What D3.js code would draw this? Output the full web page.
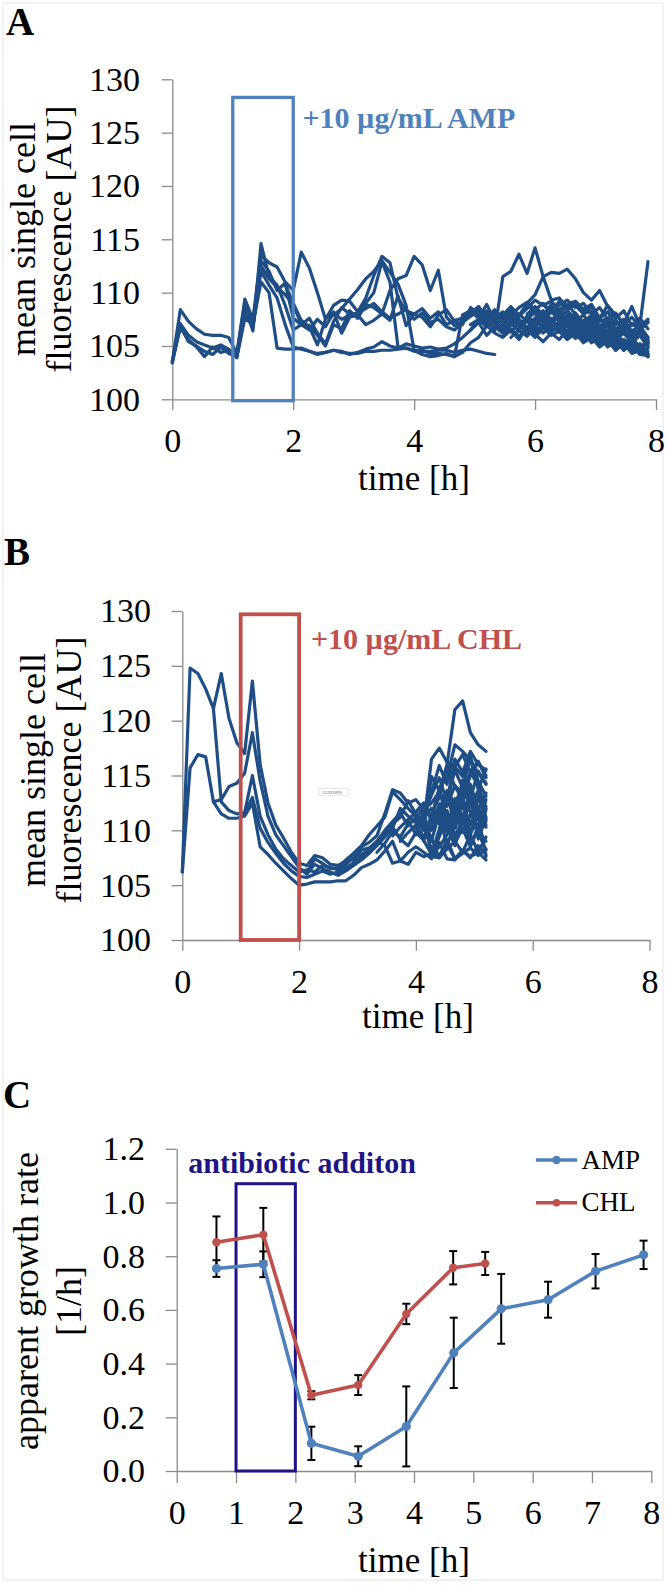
<!DOCTYPE html>
<html><head><meta charset="utf-8">
<script src="https://cdn.jsdelivr.net/npm/d3@7"></script>
<style>
html,body{margin:0;padding:0;background:#fff;}
svg{display:block;}
</style></head><body>
<script>
// ---------- shared time grid (8-minute sampling, hours) ----------
const timeGrid = [0,0.133,0.267,0.4,0.533,0.667,0.8,0.933,1.067,1.2,1.333,1.467,1.6,1.733,1.867,2,2.133,2.267,2.4,2.533,2.667,2.8,2.933,3.067,3.2,3.333,3.467,3.6,3.733,3.867,4,4.133,4.267,4.4,4.533,4.667,4.8,4.933,5.067,5.2,5.333,5.467,5.6,5.733,5.867,6,6.133,6.267,6.4,6.533,6.667,6.8,6.933,7.067,7.2,7.333,7.467,7.6,7.733,7.867];

// ---------- tick labels ----------
const fluorTicks = [100,105,110,115,120,125,130];
const hourTicksAB = [0,2,4,6,8];
const hourTicksC = [0,1,2,3,4,5,6,7,8];
const rateTicks = [0,0.2,0.4,0.6,0.8,1.0,1.2];

// ---------- panel A: single-cell traces, +AMP (start index into timeGrid, values) ----------
const ampStart = [0,0,0,0,8,8,37,37,14,20,38,40,42,41,44,45,40,43,46,40,42,44,47,48,50,41];
const ampLine1 = [103.5,108.4,107.3,106.6,106.1,106.0,106.0,105.8,104.3,109.4,107.5,113.5,112.8,112.4,111.0,110.2,113.8,112.3,110.0,107.5,108.8,109.3,109.2,108.2,109.5,111.6,113.4,112.8,109.5,108.3,108.0,108.5,107.6,108.2,107.0,107.4,107.6,108.1,108.7,107.6,108.4,107.2,107.9,106.9,107.6,108.1,107.2,108.3,107.5,106.9,107.6,106.5,107.1,106.2,106.9,105.7,106.4,105.3,106.0,105.0];
const ampLine2 = [103.5,107.1,106.0,105.4,105.1,104.8,105.1,104.7,104.0,108.8,106.4,114.6,111.5,110.7,108.8,106.5,107.0,107.6,106.2,105.2,107.3,108.6,108.0,107.9,109.0,110.0,112.9,111.0,104.9,104.8,104.5,104.6,104.3,104.3,104.2,104.0,107.9,108.3,107.6,108.9,107.4,106.6,107.8,106.8,107.3,106.6,107.9,107.1,108.2,107.0,106.4,107.2,106.0,106.6,105.4,106.1,105.0,105.6,104.6,105.2];
const ampLine3 = [103.6,106.7,105.6,104.9,104.0,104.9,104.4,104.6,103.9,107.6,107.0,111.0,110.0,104.8,104.7,104.7,104.8,104.5,104.3,104.4,104.6,104.4,104.3,104.3,104.5,104.5,104.6,104.6,104.7,104.8,104.6,104.5,104.5,104.6,104.6,104.4,104.6,104.7,104.5,104.3,104.2];
const ampLine4 = [103.4,106.9,105.4,105.0,104.5,104.2,104.9,104.3,104.0,108.0,106.8,112.0,110.7,109.5,107.0,104.9,104.7,104.5,104.2,104.4,104.6,104.5,104.2,104.4,104.7,104.9,105.4,105.0,104.8,105.2,105.0,104.8,104.9,104.7,104.8,105.2,105.8,106.5,107.5,108.0,107.0,106.3,106.6,105.9,106.5,105.8,106.7,106.0,106.4,105.6,106.2,105.3,105.8,104.9,105.5,104.6,105.2,104.4,104.9,104.2];
const ampLine5 = [104.2,109.0,107.2,113.0,112.0,110.2,110.9,107.6,107.0,106.9,106.0,105.0,107.0,106.6,108.3,107.6,108.9,108.6,108.0,110.2,111.3,111.6,113.4,112.6,110.2,112.1,107.7,106.9,107.3,107.8,108.2,107.3,108.0,107.2,108.1,107.0,107.4,108.5,107.8,108.8,108.0,107.4,108.1,107.0,107.7,106.5,107.2,106.0,106.8,105.6,106.3,105.4];
const ampLine6 = [104.0,108.4,106.7,112.5,111.3,110.5,109.8,108.9,107.0,106.5,107.5,106.8,108.1,107.5,107.9,108.1,108.5,109.0,108.2,107.6,108.0,108.4,107.5,108.1,107.2,107.5,106.8,106.5,107.2,107.8,108.4,107.6,106.4,111.5,112.0,113.6,111.8,114.2,111.5,109.3,109.5,108.6,108.8,108.0,108.3,107.3,107.6,106.6,107.1,106.2,106.5,105.8];
const ampLine7 = [107.0,107.5,106.8,107.3,106.5,107.4,107.8,109.0,109.8,111.5,111.9,111.8,112.2,111.3,110.0,109.3,110.2,108.7,107.6,108.3,106.9,107.6,106.6];
const ampLine8 = [106.5,107.2,106.0,106.8,106.2,107.1,106.4,107.8,107.2,108.0,108.6,107.9,108.9,109.2,108.4,108.9,107.6,108.8,107.9,107.1,108.7,106.9,112.9];
const ampLine9 = [110.8,109.0,107.4,106.8,105.1,107.5,108.2,106.2,107.7,107.9,107.0,107.4,108.0,107.4,109.7,106.9,108.0,107.7,106.8,107.9,108.4,107.3,107.0,108.6,108.0,107.0,108.3,107.6,108.5,107.5,106.6,107.4,106.8,107.6,106.5,107.1,105.9,106.6,105.5,106.1,105.0,105.7,104.6,105.3,104.3,104.8];
const ampLine10 = [107.9,108.5,109.4,110.3,111.3,112.0,113.0,111.9,110.8,108.8,104.6,104.2,104.0,104.1,104.3,104.0,104.4,105.3,105.8,106.9,106.2,105.8,106.5,105.6,106.8,106.2,107.0,106.3,106.9,105.9,106.5,105.5,106.0,105.0,105.7,104.6,105.3,104.4,105.0,104.0];
const ampLine11 = [107.8,108.3,107.4,106.8,107.9,108.6,109.1,108.4,109.0,108.2,107.6,108.3,107.5,106.9,107.5,106.6,107.0,106.1,106.7,105.8,106.4,105.5];
const ampLine12 = [106.9,107.6,106.3,107.2,106.0,106.8,107.5,106.6,107.3,106.2,106.9,105.8,106.4,105.4,106.0,105.1,105.6,104.7,105.2,104.3];
const ampLine13 = [106.4,105.9,106.6,106.1,105.4,106.2,105.6,106.5,105.7,106.3,105.3,105.9,104.9,105.5,104.6,105.1,104.2,104.1];
const ampLine14 = [107.9,108.7,107.8,108.5,109.3,108.8,109.2,108.4,108.9,108.0,107.2,107.9,106.9,107.3,106.4,106.9,105.9,106.3,105.4];
const ampLine15 = [106.2,107.3,107.9,107.1,107.8,106.8,107.3,106.1,106.8,105.6,106.2,105.0,105.6,104.6,105.2,104.0];
const ampLine16 = [107.6,108.3,107.4,108.1,107.0,107.7,106.7,107.3,106.2,106.9,105.8,106.5,105.4,106.0,104.9];
const ampLine17 = [107.6,108.2,107.1,108.0,107.3,108.7,107.9,108.4,107.2,107.9,106.7,107.4,106.3,106.9,105.8,106.4,105.2,105.9,104.8,105.3];
const ampLine18 = [106.9,107.7,106.3,107.0,106.4,107.2,106.0,106.8,105.7,106.4,105.2,105.8,104.7,105.4,104.3,104.6,104.0];
const ampLine19 = [108.9,108.1,109.2,108.4,109.0,108.1,108.7,107.6,108.2,107.0,107.5,106.4,106.9,105.8];
const ampLine20 = [108.1,107.5,108.6,107.9,108.8,108.2,107.5,108.4,107.7,108.3,107.3,107.9,106.9,107.6,106.8,107.4,106.5,107.1,106.6,107.3];
const ampLine21 = [105.8,106.5,105.9,106.9,106.2,107.0,106.3,106.9,106.0,106.6,105.7,106.3,105.4,106.0,105.1,105.7,104.8,105.6];
const ampLine22 = [108.0,108.6,107.8,108.9,108.1,107.3,108.0,107.1,107.8,106.7,107.4,106.2,106.9,105.9,106.5,107.2];
const ampLine23 = [107.0,106.3,107.2,106.5,107.4,106.6,105.9,106.5,105.6,106.2,105.3,104.7,104.5];
const ampLine24 = [108.8,109.3,108.6,109.0,108.0,108.6,107.5,108.1,107.0,107.7,106.8,107.5];
const ampLine25 = [105.8,106.4,105.5,106.1,105.2,105.8,104.9,105.4,104.5,104.1];
const ampLine26 = [106.2,106.9,107.5,106.7,107.6,108.2,107.4,108.0,107.1,107.9,106.8,107.5,106.4,107.0,106.0,106.6,105.6,106.2,105.2];
const ampLines = [ampLine1,ampLine2,ampLine3,ampLine4,ampLine5,ampLine6,ampLine7,ampLine8,ampLine9,ampLine10,ampLine11,ampLine12,ampLine13,ampLine14,ampLine15,ampLine16,ampLine17,ampLine18,ampLine19,ampLine20,ampLine21,ampLine22,ampLine23,ampLine24,ampLine25,ampLine26];

// ---------- panel B: single-cell traces, +CHL ----------
const chlStart = [0,4,0,4,8,15,20,22,25,27,28,30,30,31,31,32,32,33,31,32,32,33,33,34,30,29];
const chlLine1 = [106.2,124.8,124.3,122.9,121.1,124.3,120.2,118.0,117.0,123.6,116.0,112.5,110.5,109.3,108.0,107.0,106.8,107.7,107.5,106.9,106.8,107.2,107.9,108.5,108.9,109.5,111.5,113.7,113.4,112.5,112.8,111.9,112.5,113.5,116.0,121.0,121.8,118.9,117.8,117.2];
const chlLine2 = [121.1,112.6,111.8,111.5,111.6,115.0,111.3,109.6,108.3,107.4,106.8,106.2,106.4,106.2,106.8,106.6,106.4,106.9,107.5,108.2,108.4,109.0,110.0,110.8,111.6,110.4,111.2,110.0,114.9,113.6,112.2,114.1,113.3,115.4,116.3,114.8];
const chlLine3 = [106.2,115.7,116.9,116.7,112.6,111.5,111.1,111.1,111.3,112.5,108.5,107.8,107.0,106.3,105.6,105.0,105.1,105.3,105.3,105.3,105.4,105.4,105.9,106.6,106.9,107.3,108.1,109.0,107.2,106.9,108.0,107.6,107.9,108.9,107.4,107.3,108.1,107.6,108.0,107.3];
const chlLine4 = [112.6,112.8,114.0,114.3,115.2,118.9,114.5,111.3,109.6,108.6,107.6,106.6,106.0,106.9,106.5,106.2,105.9,106.3,106.8,107.3,107.9,108.6,109.4,110.3,109.2,108.6,109.8,109.1,107.8,108.5,109.6,111.0,110.5,112.7,111.4,110.3];
const chlLine5 = [111.5,113.0,110.2,108.9,107.9,107.0,106.3,105.8,105.7,106.0,106.3,106.0,106.2,106.6,107.0,107.8,108.1,108.9,109.6,110.2,112.0,111.3,110.7,109.4,110.2,111.9,113.6,112.4,114.0,112.9,115.4,114.2];
const chlLine6 = [106.5,106.2,107.4,107.0,106.5,106.6,107.3,107.9,108.6,109.6,110.4,111.2,113.5,112.8,112.0,111.3,110.6,116.5,117.5,116.2,115.8,116.9,115.3,114.1,112.0];
const chlLine7 = [106.0,106.5,107.0,107.6,108.2,109.0,108.6,107.0,107.2,108.0,108.5,108.0,107.4,109.5,111.0,110.2,112.3,110.5,113.0,111.2];
const chlLine8 = [107.2,107.8,108.2,108.9,109.7,110.6,111.2,112.7,111.5,110.8,109.0,111.6,108.5,110.9,113.2,109.6,108.0,109.4];
const chlLine9 = [108.0,108.8,109.9,109.4,110.6,111.0,112.1,107.6,107.5,108.7,107.4,107.9,108.4,107.7,108.3];
const chlLine10 = [109.5,110.3,111.0,111.6,112.4,110.9,113.9,114.8,117.8,117.2,116.4,115.2,114.3];
const chlLine11 = [109.0,109.8,110.5,111.3,112.0,110.6,113.0,115.8,114.9,116.5,113.7,115.6];
const chlLine12 = [111.0,110.5,108.2,109.4,111.8,109.5,110.9,112.6,110.0,109.0];
const chlLine13 = [110.2,109.4,110.6,112.3,110.4,108.6,111.5,109.8,111.9,110.5];
const chlLine14 = [111.5,113.2,114.8,112.6,115.5,113.9,116.7,114.5,113.1];
const chlLine15 = [110.8,109.3,107.5,108.3,109.0,108.0,109.6,111.4,107.6];
const chlLine16 = [110.0,111.1,109.8,112.4,111.0,113.8,111.8,113.4];
const chlLine17 = [112.0,110.7,113.6,110.2,112.6,111.7,109.5,110.8];
const chlLine18 = [109.6,111.2,108.8,110.2,108.5,110.4,112.2];
const chlLine19 = [109.0,111.5,113.0,115.9,114.0,112.8,115.0,116.2,115.0];
const chlLine20 = [108.0,107.6,109.2,107.4,108.2,107.5,108.6,107.8];
const chlLine21 = [113.5,115.9,114.2,116.5,115.3,117.2,116.0,115.5];
const chlLine22 = [111.0,113.1,111.8,112.6,114.2,112.0,111.0];
const chlLine23 = [112.4,110.1,112.9,109.8,111.5,110.1,112.8];
const chlLine24 = [109.9,112.3,110.8,113.5,109.2,111.9];
const chlLine25 = [111.7,112.5,111.2,113.8,110.8,109.2,111.2,108.9,109.8,108.2];
const chlLine26 = [110.9,109.6,111.8,107.8,110.1,112.9,111.3,114.6,112.1,113.6,111.0];
const chlLines = [chlLine1,chlLine2,chlLine3,chlLine4,chlLine5,chlLine6,chlLine7,chlLine8,chlLine9,chlLine10,chlLine11,chlLine12,chlLine13,chlLine14,chlLine15,chlLine16,chlLine17,chlLine18,chlLine19,chlLine20,chlLine21,chlLine22,chlLine23,chlLine24,chlLine25,chlLine26];

// ---------- panel C: apparent growth rate ----------
const ampRateTime = [0.67,1.46,2.27,3.06,3.87,4.67,5.47,6.26,7.06,7.87];
const ampRate     = [0.754,0.770,0.103,0.055,0.166,0.440,0.604,0.638,0.744,0.805];
const ampRateErr  = [0.031,0.048,0.062,0.037,0.149,0.131,0.130,0.067,0.064,0.053];
const chlRateTime = [0.67,1.46,2.27,3.06,3.87,4.66,5.20];
const chlRate     = [0.852,0.880,0.282,0.320,0.585,0.757,0.773];
const chlRateErr  = [0.096,0.100,0.015,0.037,0.038,0.062,0.043];

// ---------- drawing ----------
const W = 667, H = 1585;
const SERIF = "Liberation Serif, Times New Roman, serif";
const AXIS_GREY = "#8b8b8b";
const TRACE = "#1f4e86";
const AMP_C = "#4f81bd", CHL_C = "#c0504d", NAVY = "#1d1585";

const svg = d3.select("body").append("svg").attr("width", W).attr("height", H);
svg.append("rect").attr("width", W).attr("height", H).attr("fill", "#fff");
svg.append("rect").attr("x", 3).attr("y", 3).attr("width", 660).attr("height", 1577)
  .attr("fill", "none").attr("stroke", "#e6e6e6").attr("stroke-width", 1);

function styleAxis(sel, fs) {
  sel.select(".domain").attr("stroke", AXIS_GREY).attr("stroke-width", 1.3);
  sel.selectAll(".tick line").attr("stroke", AXIS_GREY).attr("stroke-width", 1.3);
  sel.selectAll(".tick text").attr("font-family", SERIF).attr("font-size", fs).attr("fill", "#000");
}

function panelLetter(txt, x, y) {
  svg.append("text").attr("x", x).attr("y", y).text(txt)
    .attr("font-family", SERIF).attr("font-weight", "bold").attr("font-size", 39).attr("fill", "#000");
}

function yTitle(lines, cy, baselines) {
  lines.forEach((t, k) => {
    svg.append("text").attr("transform", `translate(${baselines[k]},${cy}) rotate(-90)`)
      .attr("text-anchor", "middle").attr("font-family", SERIF).attr("font-size", 36)
      .attr("fill", "#000").text(t);
  });
}

function xTitle(cx, y) {
  svg.append("text").attr("x", cx).attr("y", y).attr("text-anchor", "middle")
    .attr("font-family", SERIF).attr("font-size", 35).attr("fill", "#000").text("time [h]");
}

function fluorPanel(cfg) {
  const x = d3.scaleLinear().domain([0, 8]).range([cfg.x0, cfg.x1]);
  const y = d3.scaleLinear().domain([100, 130]).range([cfg.y0, cfg.y1]);
  const g = svg.append("g");
  const ya = g.append("g").attr("transform", `translate(${cfg.x0},0)`)
    .call(d3.axisLeft(y).tickValues(fluorTicks).tickSize(10.6).tickPadding(cfg.yPad).tickSizeOuter(0));
  styleAxis(ya, 34);
  const xa = g.append("g").attr("transform", `translate(0,${cfg.y0})`)
    .call(d3.axisBottom(x).tickValues(hourTicksAB).tickSize(10.7).tickPadding(18).tickSizeOuter(0));
  styleAxis(xa, 34);

  const line = d3.line().x(d => x(d[0])).y(d => y(d[1]));
  cfg.lines.forEach((vals, k) => {
    const s = cfg.starts[k];
    const pts = vals.map((v, j) => [timeGrid[s + j], v]);
    g.append("path").attr("d", line(pts)).attr("fill", "none").attr("stroke", TRACE)
      .attr("stroke-width", 3.2).attr("stroke-linejoin", "round").attr("stroke-linecap", "round");
  });

  g.append("rect").attr("x", x(1)).attr("y", y(cfg.boxTop))
    .attr("width", x(2) - x(1)).attr("height", y(cfg.boxBottom) - y(cfg.boxTop))
    .attr("fill", "none").attr("stroke", cfg.boxColor).attr("stroke-width", cfg.boxWidth);

  g.append("text").attr("x", cfg.labelX).attr("y", cfg.labelY).text(cfg.label)
    .attr("font-family", SERIF).attr("font-weight", "bold").attr("font-size", 30).attr("fill", cfg.boxColor);
  return {x, y, g};
}

// Panel A
panelLetter("A", 6, 35);
fluorPanel({x0: 172.3, x1: 656, y0: 399.3, y1: 79.3, yPad: 21.7, starts: ampStart, lines: ampLines,
  boxTop: 128.3, boxBottom: 99.87, boxColor: AMP_C, boxWidth: 3.3,
  label: "+10 \u00b5g/mL AMP", labelX: 302.5, labelY: 128.3});
yTitle(["mean single cell", "fluorescence [AU]"], 239, [34.5, 71]);
xTitle(414, 490);

// Panel B
panelLetter("B", 4, 565);
const pb = fluorPanel({x0: 182.3, x1: 649.5, y0: 940, y1: 611, yPad: 20.7, starts: chlStart, lines: chlLines,
  boxTop: 129.7, boxBottom: 100, boxColor: CHL_C, boxWidth: 3.8,
  label: "+10 \u00b5g/mL CHL", labelX: 311, labelY: 649.3});
// small stray text box visible in the original figure
pb.g.append("rect").attr("x", 319).attr("y", 788.5).attr("width", 29).attr("height", 7)
  .attr("fill", "#fff").attr("stroke", "#d8d8d8").attr("stroke-width", 0.6);
pb.g.append("text").attr("x", 322).attr("y", 794).attr("font-family", SERIF).attr("font-size", 5)
  .attr("fill", "#666").text("15292890");
yTitle(["mean single cell", "fluorescence [AU]"], 770, [44.5, 81]);
xTitle(418, 1028);

// Panel C
panelLetter("C", 3, 1108);
(function () {
  const x = d3.scaleLinear().domain([0, 8]).range([176.7, 651.3]);
  const y = d3.scaleLinear().domain([0, 1.2]).range([1471, 1148.8]);
  const g = svg.append("g");
  const ya = g.append("g").attr("transform", `translate(${x(0)},0)`)
    .call(d3.axisLeft(y).tickValues(rateTicks).tickFormat(d3.format(".1f")).tickSize(11).tickPadding(20.7).tickSizeOuter(0));
  styleAxis(ya, 34);
  const xa = g.append("g").attr("transform", `translate(0,${y(0)})`)
    .call(d3.axisBottom(x).tickValues(hourTicksC).tickSize(12).tickPadding(17).tickSizeOuter(0));
  styleAxis(xa, 34);

  // antibiotic addition box
  g.append("rect").attr("x", x(1)).attr("y", y(1.07)).attr("width", x(2) - x(1)).attr("height", y(0) - y(1.07))
    .attr("fill", "none").attr("stroke", NAVY).attr("stroke-width", 3);
  g.append("text").attr("x", 188.3).attr("y", 1173).text("antibiotic additon")
    .attr("font-family", SERIF).attr("font-weight", "bold").attr("font-size", 30).attr("fill", NAVY);

  const series = [
    {t: ampRateTime, v: ampRate, e: ampRateErr, c: AMP_C, r: 4.6},
    {t: chlRateTime, v: chlRate, e: chlRateErr, c: CHL_C, r: 4.2}
  ];
  // error bars
  series.forEach(s => {
    s.t.forEach((t, i) => {
      const cx = x(t), top = y(s.v[i] + s.e[i]), bot = y(s.v[i] - s.e[i]);
      g.append("line").attr("x1", cx).attr("x2", cx).attr("y1", top).attr("y2", bot)
        .attr("stroke", "#000").attr("stroke-width", 2);
      [top, bot].forEach(yy => g.append("line").attr("x1", cx - 4).attr("x2", cx + 4).attr("y1", yy).attr("y2", yy)
        .attr("stroke", "#000").attr("stroke-width", 2));
    });
  });
  const line = d3.line().x(d => x(d[0])).y(d => y(d[1]));
  series.forEach(s => {
    const pts = s.t.map((t, i) => [t, s.v[i]]);
    g.append("path").attr("d", line(pts)).attr("fill", "none").attr("stroke", s.c)
      .attr("stroke-width", 3.6).attr("stroke-linejoin", "round");
    pts.forEach(p => g.append("circle").attr("cx", x(p[0])).attr("cy", y(p[1])).attr("r", s.r).attr("fill", s.c));
  });

  // legend
  const leg = [{name: "AMP", c: AMP_C, y: 1160, r: 4.2}, {name: "CHL", c: CHL_C, y: 1202.7, r: 3.8}];
  leg.forEach(L => {
    g.append("line").attr("x1", 536).attr("x2", 577).attr("y1", L.y).attr("y2", L.y)
      .attr("stroke", L.c).attr("stroke-width", 3.6);
    g.append("circle").attr("cx", 556.5).attr("cy", L.y).attr("r", L.r).attr("fill", L.c);
    g.append("text").attr("x", 581.5).attr("y", L.y + 8.5).text(L.name)
      .attr("font-family", SERIF).attr("font-size", 27).attr("fill", "#000");
  });
})();
yTitle(["apparent growth rate", "[1/h]"], 1301, [37.5, 81]);
xTitle(414, 1572);
</script>
</body></html>
